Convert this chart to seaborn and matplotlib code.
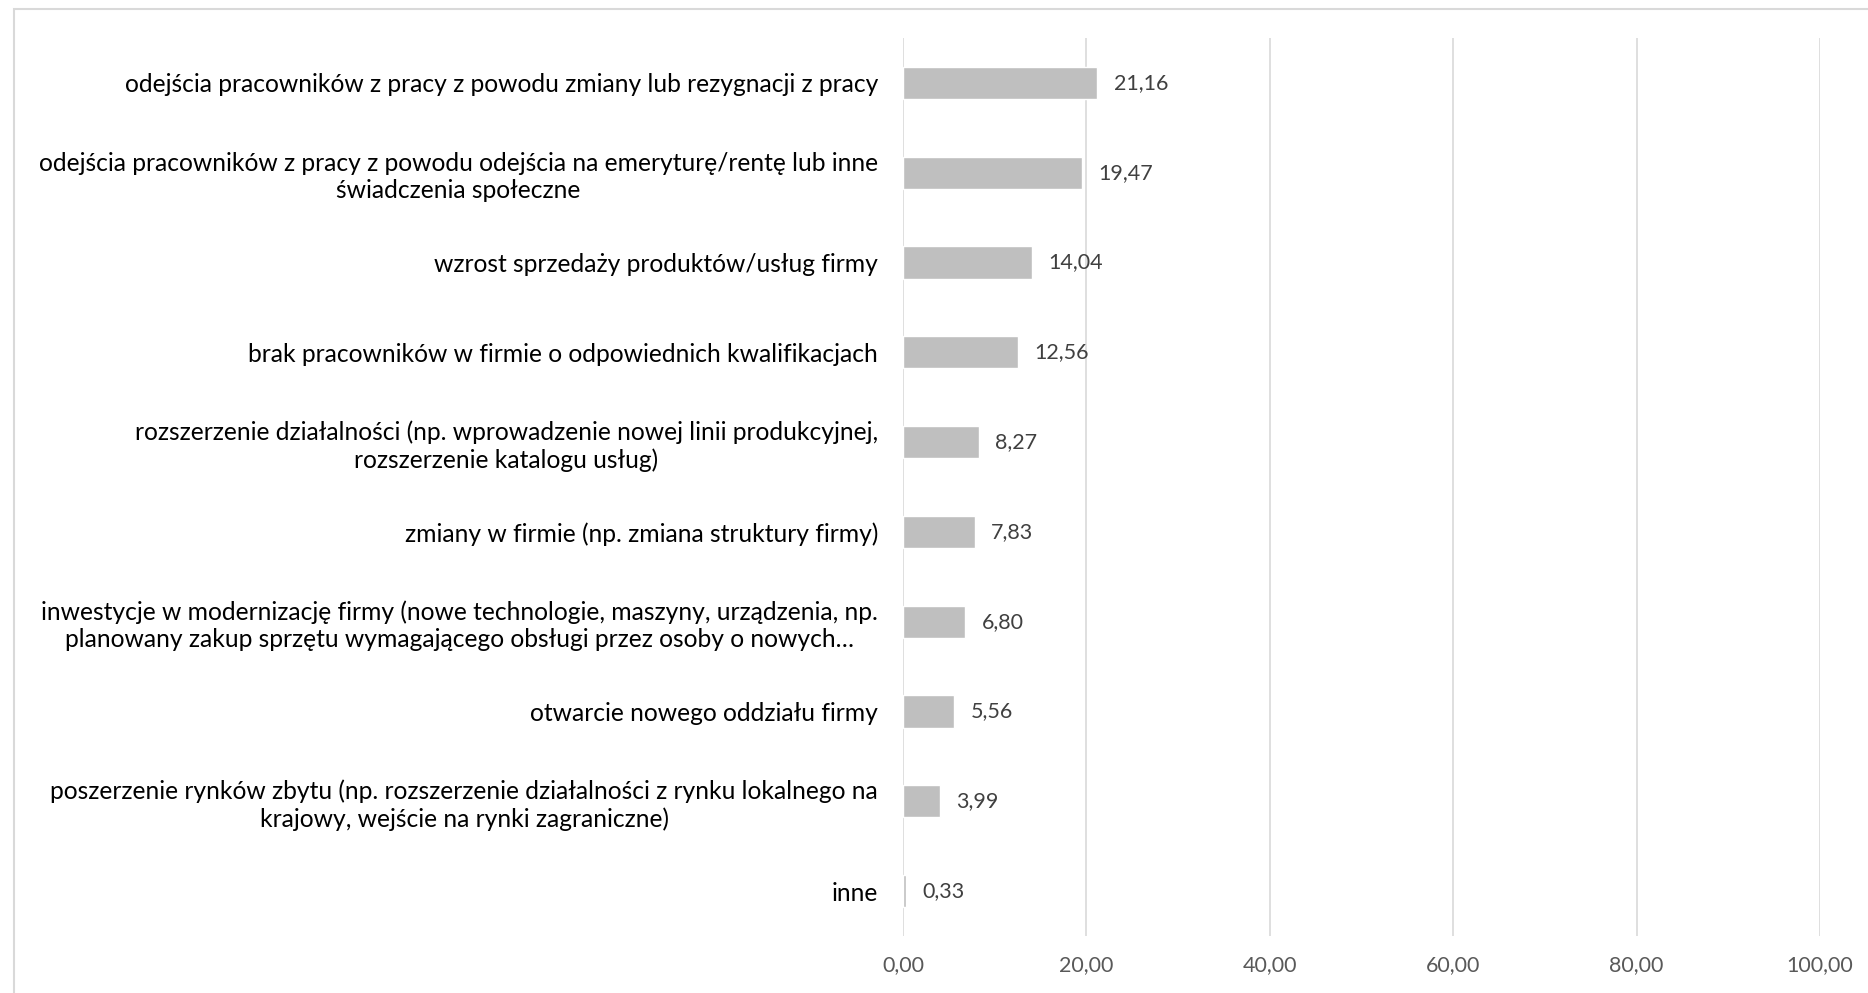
import matplotlib
matplotlib.use("Agg")
import matplotlib.pyplot as plt
import seaborn as sns
import pandas as pd
from matplotlib.patches import Rectangle

categories = [
    "odejścia pracowników z pracy z powodu zmiany lub rezygnacji z pracy",
    "odejścia pracowników z pracy z powodu odejścia na emeryturę/rentę lub inne\nświadczenia społeczne",
    "wzrost sprzedaży produktów/usług firmy",
    "brak pracowników w firmie o odpowiednich kwalifikacjach",
    "rozszerzenie działalności (np. wprowadzenie nowej linii produkcyjnej,\nrozszerzenie katalogu usług)",
    "zmiany w firmie (np. zmiana struktury firmy)",
    "inwestycje w modernizację firmy (nowe technologie, maszyny, urządzenia, np.\nplanowany zakup sprzętu wymagającego obsługi przez osoby o nowych…",
    "otwarcie nowego oddziału firmy",
    "poszerzenie rynków zbytu (np. rozszerzenie działalności z rynku lokalnego na\nkrajowy, wejście na rynki zagraniczne)",
    "inne",
]
values = [21.16, 19.47, 14.04, 12.56, 8.27, 7.83, 6.80, 5.56, 3.99, 0.33]
xticks = [0, 20, 40, 60, 80, 100]

sns.set_style("white")
plt.rcParams["font.family"] = ["Lato", "DejaVu Sans"]

W, H = 1868, 993
fig = plt.figure(figsize=(W / 100, H / 100), dpi=100)
ax = fig.add_axes([903 / W, 1 - 936 / H, (1820 - 903) / W, (936 - 38) / H])

df = pd.DataFrame({"cat": categories, "val": values})
sns.barplot(data=df, x="val", y="cat", orient="h", color="#BFBFBF",
            saturation=1, width=0.36, ax=ax, zorder=3)

ax.set_xlim(0, 100)
ax.set_xticks(xticks)
ax.set_xticklabels([f"{t:.2f}".replace(".", ",") for t in xticks],
                   color="#595959", fontsize=15.5)
ax.tick_params(axis="x", length=0, pad=14)
ax.tick_params(axis="y", length=0, pad=18)
for lbl in ax.get_yticklabels():
    lbl.set_fontsize(17.7)
    lbl.set_color("#000000")
    lbl.set_multialignment("center")
    lbl.set_linespacing(1.22)
ax.set_xlabel("")
ax.set_ylabel("")
ax.grid(axis="x", color="#D9D9D9", linewidth=1.2, zorder=0)
ax.grid(axis="y", visible=False)
for s in ax.spines.values():
    s.set_visible(False)

for i, v in enumerate(values):
    ax.text(v + 1.8, i, f"{v:.2f}".replace(".", ","), va="center", ha="left",
            fontsize=15.5, color="#404040")

fig.patches.append(Rectangle((14 / W, -0.1), 1.2, 1 - 9 / H + 0.1,
                             transform=fig.transFigure, fill=False,
                             edgecolor="#D9D9D9", linewidth=1.5))

fig.savefig("out.png", dpi=100)
